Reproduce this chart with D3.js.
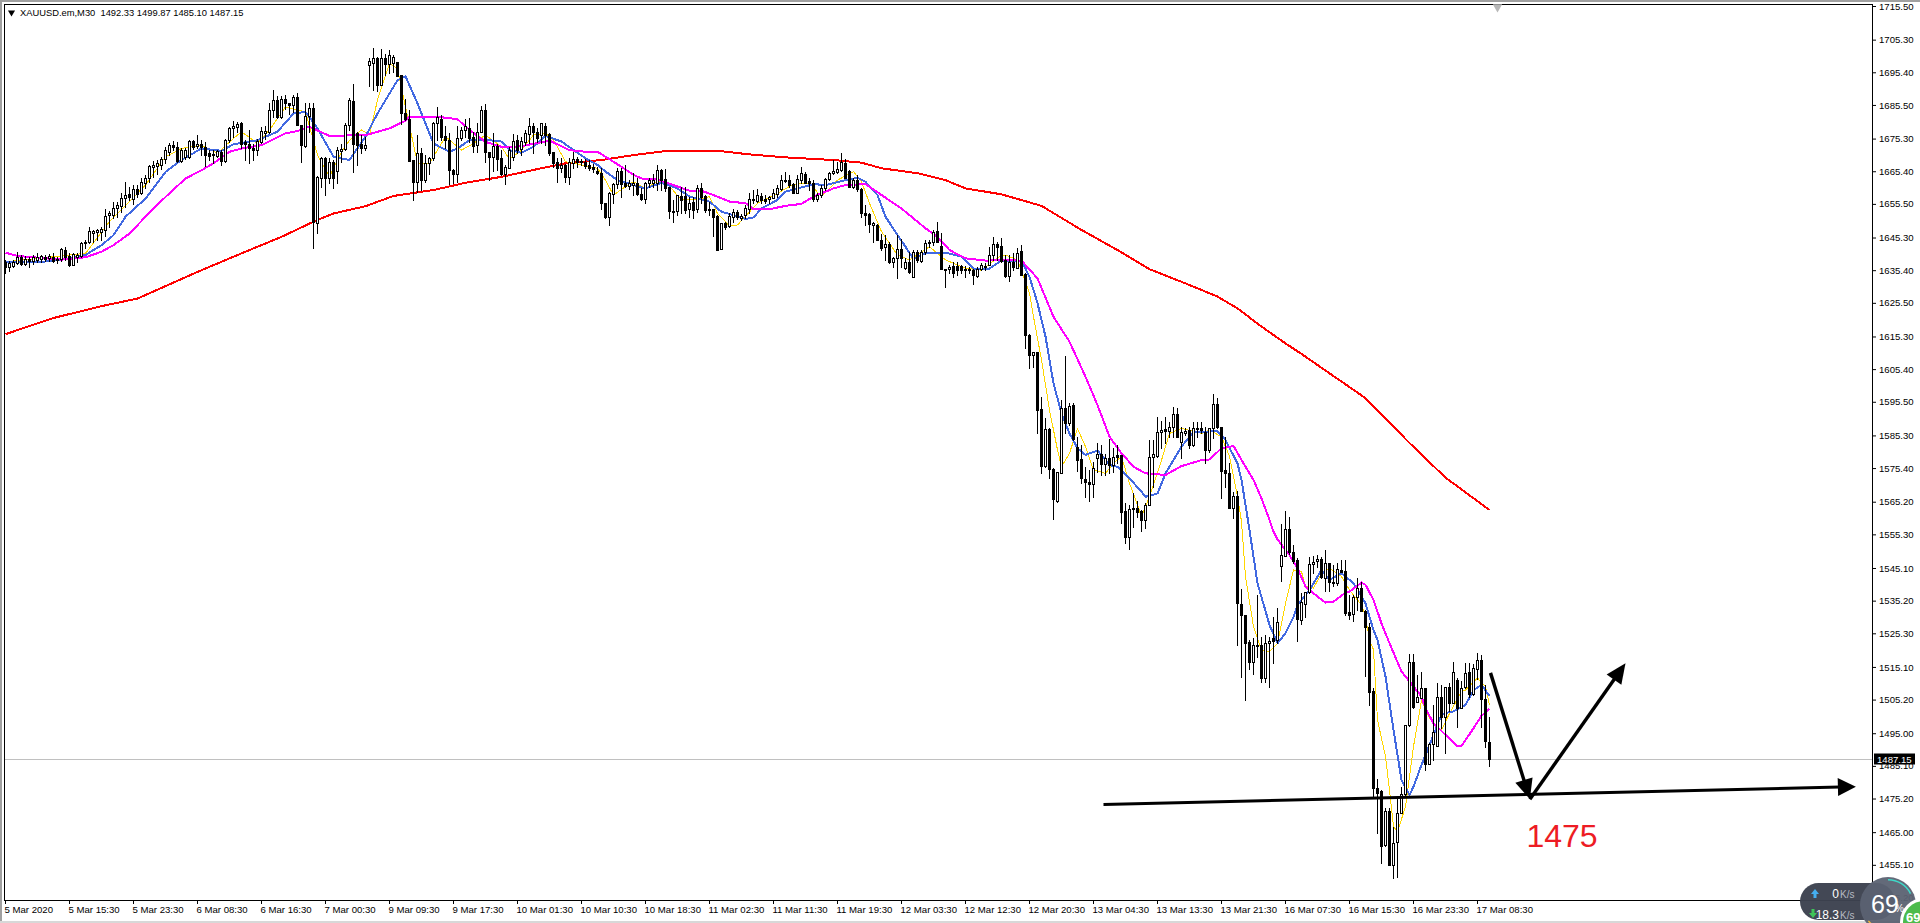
<!DOCTYPE html>
<html><head><meta charset="utf-8">
<script src="https://cdn.jsdelivr.net/npm/d3@7/dist/d3.min.js"></script>
<style>html,body{margin:0;padding:0;background:#fff;overflow:hidden}svg{display:block}text{font-family:"Liberation Sans",Arial,sans-serif}</style>
</head><body><svg id="c" width="1920" height="923"></svg>
<script>
const symbolTitle="XAUUSD.em,M30  1492.33 1499.87 1485.10 1487.15";
const lastPrice=1487.15;
const priceTicks=[1715.50,1705.30,1695.40,1685.50,1675.30,1665.40,1655.50,1645.30,1635.40,1625.50,1615.30,1605.40,1595.50,1585.30,1575.40,1565.20,1555.30,1545.10,1535.20,1525.30,1515.10,1505.20,1495.00,1485.10,1475.20,1465.00,1455.10,1445.20];
const timeLabels=["5 Mar 2020","5 Mar 15:30","5 Mar 23:30","6 Mar 08:30","6 Mar 16:30","7 Mar 00:30","9 Mar 09:30","9 Mar 17:30","10 Mar 01:30","10 Mar 10:30","10 Mar 18:30","11 Mar 02:30","11 Mar 11:30","11 Mar 19:30","12 Mar 03:30","12 Mar 12:30","12 Mar 20:30","13 Mar 04:30","13 Mar 13:30","13 Mar 21:30","16 Mar 07:30","16 Mar 15:30","16 Mar 23:30","17 Mar 08:30"];
const barsPerLabel=16;

const opens=[
1637.9,1636.4,1636.7,1637.7,1639.5,1637.4,1638.8,1638.2,1638.6,1638.9,
1639.5,1639.0,1639.3,1638.4,1638.9,1641.5,1639.7,1637.1,1639.3,1639.8,
1643.5,1643.8,1646.7,1647.0,1647.0,1647.5,1652.1,1652.1,1654.4,1654.8,
1657.4,1658.5,1656.9,1659.9,1658.7,1661.7,1663.2,1666.7,1667.1,1667.3,
1669.0,1671.3,1673.3,1672.8,1668.6,1669.8,1669.8,1674.5,1673.0,1673.8,
1672.8,1670.8,1670.3,1670.1,1671.3,1668.6,1675.0,1678.4,1678.9,1679.9,
1674.3,1673.8,1672.5,1671.8,1674.3,1676.9,1677.4,1684.1,1687.0,1681.9,
1687.3,1686.0,1685.5,1687.8,1679.3,1673.0,1682.1,1684.6,1649.6,1663.5,
1669.5,1663.2,1668.1,1665.5,1671.6,1672.0,1679.4,1686.7,1677.1,1673.8,
1672.3,1697.6,1698.3,1699.6,1691.5,1699.6,1697.8,1698.1,1698.4,1694.6,
1683.1,1681.1,1668.8,1662.2,1671.0,1662.7,1667.8,1669.3,1680.1,1681.1,
1676.0,1675.0,1665.9,1664.7,1675.6,1677.9,1678.4,1675.8,1673.3,1677.4,
1684.1,1671.3,1669.6,1673.0,
1669.3,1664.6,1666.5,1669.8,1674.9,1672.0,1674.4,1676.7,1679.1,1677.4,1676.4,1679.1,1676.7,1671.1,1668.1,1666.3,
1667.3,1663.7,1668.0,1669.0,1668.1,1668.3,1667.3,1666.8,1665.6,1664.8,1655.9,1651.6,1658.5,1661.5,1665.5,1661.9,
1660.9,1661.2,1661.7,1658.5,1656.9,1661.7,1661.7,1661.9,1665.8,1662.9,1660.5,1653.4,1653.4,1658.0,1657.9,1654.1,
1656.2,1653.8,1660.2,1657.9,1654.1,1653.8,1651.8,1641.7,1649.6,1648.8,1651.6,1653.1,1651.3,1652.1,1654.1,1656.7,
1656.4,1657.9,1657.1,1656.9,1657.2,1658.5,1659.9,1662.7,1662.7,1661.5,1658.9,1662.7,1664.6,1662.4,1661.7,1656.9,
1658.2,1660.2,1662.9,1664.8,1665.3,1665.8,1668.0,1665.6,1660.5,1662.7,1659.9,1652.8,1652.4,1649.1,1649.1,1644.7,
1642.3,1643.3,1638.0,1639.0,1641.7,1636.2,1638.0,1633.2,1641.0,1638.3,1641.0,1643.5,1644.0,1647.4,1642.7,1635.9,
1635.9,1636.8,1636.7,1636.7,1635.9,1635.9,1635.4,1633.7,1635.9,1636.4,1637.0,1640.0,1643.2,
1642.7,1638.5,1633.7,1638.0,1636.0,1641.2,1634.2,1615.8,1609.7,1610.5,1593.2,1576.0,1587.1,1575.1,1565.5,1574.0,
1593.5,1589.2,1594.5,1581.7,1578.0,1572.0,1571.3,1570.6,1578.6,1579.8,1576.6,1578.6,1576.3,1579.3,1579.4,1562.4,
1554.6,1563.2,1563.2,1562.4,1559.8,1564.2,1578.9,1579.1,1586.2,1587.1,1586.6,1587.9,1591.7,1583.4,1586.0,1586.9,
1582.4,1587.4,1587.4,1586.4,1580.9,1587.4,1594.7,1587.9,1574.8,1573.8,1563.2,
1567.0,1534.2,1530.9,1522.6,1516.7,1521.8,1521.6,1511.8,1522.3,1523.8,1523.3,1545.8,1548.7,1556.8,1549.9,1547.5,
1529.3,1534.2,1537.7,1546.2,1547.1,1547.8,1542.2,1546.5,1541.0,1540.5,1544.5,1544.3,1531.9,1531.2,1536.2,1538.9,
1532.2,1527.1,1507.8,1478.3,1477.5,1461.1,1471.4,1455.1,1461.9,1470.7,1476.6,1497.4,1516.7,1504.6,1505.6,1508.6,
1485.7,1491.8,1491.2,1506.1,1500.0,1508.9,1504.1,1511.0,1502.6,1508.9,1513.5,1506.8,1514.4,1517.2,1505.3,1492.33];
const highs=[
1638.4,1638.2,1638.6,1640.8,1640.0,1639.7,1639.3,1640.0,1640.7,1640.0,
1640.0,1640.3,1640.7,1639.5,1642.0,1642.5,1640.5,1640.7,1640.5,1644.0,
1644.7,1648.5,1647.7,1648.0,1648.5,1654.1,1653.4,1656.1,1656.1,1658.7,
1662.2,1660.7,1661.2,1661.2,1663.5,1664.2,1667.3,1668.6,1668.8,1669.8,
1672.8,1674.0,1674.6,1674.3,1672.3,1672.3,1674.8,1674.8,1676.4,1674.8,
1674.3,1671.8,1671.8,1671.8,1671.8,1675.3,1678.9,1680.7,1680.4,1680.4,
1674.8,1677.9,1673.6,1675.3,1678.9,1679.1,1686.0,1690.0,1688.2,1688.2,
1688.5,1686.0,1688.5,1689.0,1679.4,1686.0,1686.0,1686.0,1663.9,1669.6,
1669.8,1669.3,1668.8,1672.8,1673.8,1679.9,1687.5,1692.0,1677.4,1676.4,
1675.9,1699.6,1702.9,1700.1,1702.6,1700.9,1702.3,1700.6,1698.6,1694.5,
1687.2,1683.9,1668.8,1676.4,1672.3,1670.3,1669.8,1680.4,1684.9,1682.4,
1679.1,1676.9,1666.2,1679.1,1678.9,1681.1,1681.4,1677.4,1679.9,1685.1,
1685.8,1671.3,1676.9,1673.8,
1671.8,1667.3,1672.8,1676.7,1676.4,1675.9,1677.9,1681.4,1679.9,1678.4,1680.1,1680.1,1676.9,1671.3,1669.3,1669.3,
1667.6,1669.3,1671.3,1669.8,1669.0,1669.0,1668.8,1667.6,1666.8,1666.3,1655.9,1659.2,1661.7,1666.3,1666.3,1667.3,
1662.7,1664.8,1663.5,1660.2,1662.2,1663.2,1664.6,1667.3,1666.0,1666.0,1660.5,1656.7,1658.2,1660.7,1660.7,1657.7,
1657.7,1661.2,1661.7,1658.2,1656.2,1654.1,1652.1,1649.8,1650.1,1652.6,1654.1,1653.6,1652.4,1655.2,1658.7,1659.7,
1659.9,1658.7,1658.2,1657.9,1659.9,1661.2,1664.3,1665.3,1664.3,1661.7,1664.3,1666.6,1665.3,1663.2,1662.7,1658.7,
1661.2,1663.5,1665.3,1668.8,1668.3,1671.0,1669.0,1665.8,1663.2,1664.3,1660.2,1655.2,1652.6,1650.1,1649.4,1646.4,
1646.1,1644.0,1639.5,1646.1,1645.0,1639.0,1641.0,1641.5,1641.5,1641.5,1644.5,1644.5,1647.6,1650.1,1646.6,1635.9,
1636.9,1638.0,1638.0,1637.0,1636.7,1636.4,1635.9,1636.4,1637.5,1637.5,1642.5,1645.5,1644.0,
1645.1,1640.0,1640.0,1640.5,1642.0,1643.0,1634.5,1616.1,1610.7,1610.7,1597.0,1590.5,1587.4,1575.3,1574.3,1596.0,
1609.4,1595.0,1595.0,1584.9,1582.4,1575.8,1574.8,1577.3,1582.9,1582.4,1579.6,1584.1,1581.4,1582.4,1579.4,1564.9,
1564.2,1567.7,1565.5,1562.7,1564.7,1583.9,1583.9,1591.0,1589.7,1590.8,1589.5,1594.0,1593.7,1587.9,1587.4,1587.9,
1589.5,1589.5,1589.5,1587.9,1587.4,1597.9,1596.5,1587.9,1584.9,1576.8,1568.2,
1568.3,1538.7,1530.9,1523.3,1523.8,1536.9,1524.3,1524.8,1524.3,1530.3,1532.9,1558.5,1562.5,1560.5,1552.1,1548.0,
1537.4,1537.9,1548.3,1548.7,1549.1,1548.5,1550.6,1546.5,1546.0,1546.5,1547.5,1547.5,1536.9,1536.9,1542.0,1541.0,
1532.4,1528.4,1508.8,1481.0,1477.8,1472.2,1472.2,1466.7,1475.3,1478.8,1497.5,1519.1,1519.1,1512.7,1513.5,1508.6,
1492.0,1503.6,1510.2,1509.6,1509.1,1510.2,1516.7,1511.7,1510.7,1516.2,1516.4,1516.0,1519.3,1518.7,1509.7,1499.87];
const lows=[
1634.6,1635.2,1636.4,1637.4,1636.9,1636.9,1636.4,1637.4,1637.9,1637.9,
1638.2,1638.2,1637.9,1637.6,1638.2,1638.4,1636.7,1636.9,1637.9,1639.3,
1642.0,1643.5,1644.0,1644.5,1644.7,1645.7,1648.5,1651.1,1651.6,1653.1,
1654.6,1656.6,1655.4,1657.6,1658.5,1660.2,1662.2,1663.7,1664.7,1666.2,
1667.8,1670.3,1671.8,1668.3,1668.3,1669.0,1669.3,1672.1,1672.3,1670.3,
1667.0,1668.8,1667.8,1669.8,1667.3,1668.3,1674.3,1675.9,1677.4,1672.3,
1668.8,1667.8,1668.8,1670.3,1674.0,1675.3,1676.9,1681.9,1681.4,1681.4,
1684.4,1682.9,1683.4,1679.4,1668.3,1672.8,1677.4,1642.0,1646.7,1660.7,
1658.2,1661.7,1660.2,1661.9,1668.3,1671.8,1677.9,1665.2,1667.3,1671.0,
1671.8,1691.2,1690.0,1689.8,1691.5,1694.5,1695.1,1695.6,1694.5,1679.7,
1680.9,1668.6,1656.8,1659.2,1659.7,1662.2,1664.7,1668.8,1674.8,1674.8,
1672.3,1661.5,1661.9,1662.2,1674.8,1675.9,1674.3,1671.3,1671.3,1677.4,
1668.3,1662.7,1665.5,1665.7,
1664.3,1661.4,1666.3,1668.8,1671.0,1670.3,1673.4,1673.9,1670.8,1674.4,1673.9,1673.4,1670.3,1666.8,1662.2,1665.3,
1662.2,1661.4,1666.3,1666.8,1667.3,1666.3,1665.8,1665.3,1664.6,1653.8,1651.1,1649.1,1655.7,1660.2,1657.7,1660.5,
1659.9,1658.2,1658.2,1656.7,1655.7,1660.5,1660.5,1659.7,1659.7,1659.5,1651.1,1650.1,1652.1,1652.6,1652.6,1651.6,
1651.1,1653.1,1655.7,1653.1,1652.1,1645.8,1641.5,1641.7,1647.8,1648.6,1650.1,1650.8,1650.6,1651.1,1652.6,1655.7,
1656.2,1655.7,1655.9,1655.9,1657.2,1657.7,1659.7,1662.2,1660.5,1658.7,1658.7,1661.7,1661.7,1659.7,1656.5,1656.5,
1657.7,1659.7,1662.7,1664.6,1665.0,1665.6,1663.2,1660.5,1660.2,1659.5,1651.6,1649.1,1647.1,1644.0,1644.5,1641.5,
1638.5,1637.5,1636.4,1632.9,1636.4,1635.9,1634.4,1633.2,1638.0,1638.0,1640.3,1642.5,1643.0,1644.0,1635.9,1630.4,
1634.6,1633.4,1633.9,1634.4,1633.4,1634.4,1631.1,1633.4,1635.4,1635.4,1637.0,1638.5,1638.5,
1638.0,1633.2,1632.2,1635.5,1636.0,1633.9,1611.7,1605.8,1606.1,1585.9,1574.0,1575.8,1572.3,1560.1,1565.2,1573.8,
1585.9,1588.5,1583.9,1574.6,1570.8,1566.7,1565.5,1566.5,1574.3,1573.3,1573.3,1573.8,1574.3,1576.8,1558.6,1552.6,
1551.0,1557.6,1560.7,1556.4,1557.1,1564.2,1569.8,1578.9,1581.4,1582.9,1584.9,1584.9,1584.9,1578.3,1585.4,1581.4,
1582.1,1584.9,1585.9,1576.8,1580.4,1584.4,1587.4,1566.2,1569.8,1563.2,1560.4,
1521.6,1512.1,1505.0,1514.5,1513.0,1518.2,1510.6,1510.6,1508.9,1516.2,1522.3,1541.3,1548.7,1549.4,1546.5,1523.1,
1528.0,1530.3,1537.6,1543.5,1545.5,1542.0,1538.0,1538.0,1539.6,1540.0,1543.8,1530.9,1529.5,1529.1,1532.4,1532.2,
1512.5,1503.6,1475.8,1464.7,1455.8,1460.8,1455.1,1451.0,1451.3,1470.7,1476.3,1497.2,1502.6,1504.6,1505.6,1483.7,
1485.6,1486.9,1491.1,1496.5,1489.0,1501.6,1504.1,1496.8,1502.6,1508.6,1506.1,1506.6,1511.4,1497.0,1490.7,1485.10];
const closes=[
1636.4,1637.6,1637.9,1639.5,1637.4,1638.9,1638.1,1639.3,1639.5,1639.7,
1638.8,1639.7,1638.2,1638.9,1641.7,1639.3,1636.9,1640.3,1640.0,1643.5,
1644.0,1647.2,1647.3,1647.5,1647.8,1651.9,1652.6,1654.4,1655.1,1657.4,
1658.2,1657.6,1660.0,1658.5,1662.0,1663.2,1667.0,1667.3,1667.8,1669.1,
1671.8,1673.3,1672.8,1668.5,1671.8,1671.8,1674.5,1672.8,1673.6,1672.8,
1670.3,1670.0,1670.6,1671.5,1668.6,1675.0,1678.4,1679.1,1679.6,1673.8,
1673.8,1672.3,1671.8,1674.5,1677.7,1677.7,1684.1,1687.0,1681.9,1687.3,
1686.0,1685.5,1688.0,1679.4,1673.3,1682.1,1684.6,1650.1,1663.7,1669.3,
1663.2,1668.1,1663.2,1671.8,1672.0,1679.4,1687.0,1673.8,1673.3,1672.3,
1673.3,1698.8,1699.6,1691.5,1699.6,1697.8,1700.6,1700.1,1694.2,1683.1,
1681.1,1668.6,1662.2,1671.0,1662.7,1668.0,1669.3,1680.1,1681.9,1675.9,
1674.8,1665.7,1664.7,1675.6,1677.9,1679.1,1675.6,1673.0,1677.4,1684.1,
1671.3,1669.6,1673.0,1669.0,
1664.6,1666.6,1671.8,1674.7,1671.8,1674.7,1676.9,1679.1,1677.4,1675.4,1679.9,1676.4,1671.0,1667.8,1666.3,1667.3,
1663.7,1668.3,1669.0,1668.3,1668.5,1667.1,1666.3,1666.0,1664.8,1655.9,1651.4,1658.7,1661.5,1665.4,1661.5,1660.9,
1661.9,1661.7,1658.4,1656.9,1661.9,1662.7,1662.7,1665.8,1662.7,1660.2,1653.4,1653.1,1658.2,1656.7,1653.6,1655.9,
1653.6,1660.2,1657.7,1653.6,1653.6,1651.6,1641.5,1649.6,1648.6,1651.8,1653.1,1651.4,1651.9,1654.4,1656.9,1657.0,
1658.2,1656.7,1656.4,1657.5,1658.7,1660.2,1662.7,1662.4,1661.2,1658.9,1662.9,1665.0,1661.9,1661.7,1656.9,1658.2,
1660.2,1663.0,1664.8,1665.6,1666.0,1668.1,1663.2,1660.5,1662.7,1659.9,1652.8,1652.1,1649.4,1649.8,1644.7,1642.0,
1643.3,1638.0,1639.0,1641.7,1639.0,1638.0,1634.9,1641.0,1638.5,1641.0,1643.5,1644.0,1647.1,1644.0,1635.9,1635.4,
1636.4,1634.6,1635.4,1635.4,1635.4,1635.4,1633.9,1635.9,1637.0,1636.7,1640.0,1643.2,1642.5,
1638.3,1633.7,1638.0,1636.3,1640.7,1633.9,1615.8,1609.7,1610.5,1593.0,1576.0,1587.1,1575.0,1565.9,1574.1,1593.5,
1589.2,1594.3,1584.2,1577.8,1572.3,1571.3,1570.6,1575.3,1579.8,1576.6,1578.6,1576.3,1578.9,1578.9,1562.2,1554.6,
1562.9,1562.9,1562.2,1559.6,1564.2,1578.9,1579.6,1586.2,1586.9,1586.6,1587.9,1591.7,1584.9,1586.2,1586.6,1582.4,
1587.4,1587.1,1586.9,1580.9,1587.4,1594.7,1587.9,1574.6,1573.8,1563.2,1566.9,
1534.4,1530.7,1522.5,1516.7,1521.8,1521.3,1511.8,1522.3,1523.1,1523.0,1528.8,1549.1,1556.8,1549.8,1547.3,1529.5,
1534.7,1537.7,1546.2,1547.0,1547.7,1542.5,1546.5,1541.0,1540.5,1544.7,1543.8,1531.6,1530.9,1536.2,1538.9,1532.2,
1527.1,1507.6,1478.3,1477.0,1460.9,1471.4,1455.1,1461.6,1470.7,1476.6,1497.5,1516.7,1503.1,1505.9,1508.6,1485.6,
1491.8,1495.5,1505.9,1500.0,1508.9,1504.1,1513.5,1502.6,1508.6,1513.2,1506.8,1514.7,1517.2,1505.3,1492.5,1487.15];

const redBars=[0,12,24,33,49,60,69,77,82,90,97,103,107,115,124,132,140,149,157,165,178,186,195,207,214,219,228,235,240,249,259,269,278,286,295,303,308,314,320,324,340,351,360,371];
const redValues=[1616.0,1620.9,1624.5,1626.8,1635.4,1641.0,1645.5,1650.1,1652.6,1654.8,1657.9,1659.0,1659.7,1661.9,1663.7,1665.8,1667.8,1668.8,1670.3,1671.5,1671.6,1670.5,1669.6,1668.8,1668.0,1666.3,1664.8,1662.7,1660.2,1658.4,1654.9,1647.6,1641.5,1635.7,1631.4,1627.4,1623.8,1618.3,1613.2,1610.0,1596.6,1583.0,1572.5,1562.7];

const blueBars=[0,9,16,20,24,27,30,35,40,44,49,54,57,63,68,72,75,78,82,86,90,93,98,100,103,107,111,113,116,121,124,126,129,132,135,139,145,148,150,153,157,160,164,168,171,176,179,182,185,187,189,193,195,199,202,205,210,213,215,218,220,223,225,227,230,235,239,242,246,249,254,256,258,260,262,264,266,268,270,273,276,278,281,284,285,288,290,294,297,300,303,305,308,309,311,313,316,318,320,322,323,326,329,331,334,337,340,342,343,345,347,349,351,352,354,355,357,359,360,362,365,367,369,371];
const blueValues=[1637.9,1637.9,1638.9,1640.0,1643.0,1646.0,1651.6,1657.1,1665.2,1668.8,1672.3,1671.6,1673.6,1674.8,1677.4,1682.9,1683.4,1678.4,1669.8,1668.8,1675.9,1682.9,1693.0,1694.2,1686.0,1673.8,1671.3,1672.3,1674.8,1674.8,1674.4,1671.8,1671.0,1672.8,1676.1,1674.4,1669.3,1667.3,1665.3,1662.7,1661.2,1660.2,1661.9,1660.2,1657.7,1656.2,1653.1,1652.1,1650.9,1651.4,1654.1,1656.7,1659.2,1660.5,1661.5,1661.2,1662.7,1663.4,1662.2,1658.2,1651.6,1646.1,1642.5,1638.7,1640.5,1640.7,1639.5,1635.9,1635.9,1638.3,1638.3,1633.4,1625.4,1615.3,1601.1,1592.0,1585.9,1581.4,1579.4,1580.7,1576.3,1575.8,1572.3,1568.2,1566.7,1567.7,1573.8,1581.9,1586.4,1586.4,1586.6,1583.9,1576.8,1571.8,1556.6,1540.5,1527.8,1522.3,1525.3,1530.3,1533.9,1538.4,1544.5,1541.5,1543.5,1540.5,1534.4,1526.3,1523.3,1512.2,1496.0,1480.8,1476.3,1478.8,1485.4,1488.4,1494.5,1500.6,1501.1,1501.6,1503.6,1508.1,1509.6,1506.3];

const magentaBars=[0,3,7,14,20,24,27,31,35,40,45,49,52,56,59,64,70,73,76,81,87,90,96,100,101,108,113,115,120,124,128,132,136,141,145,148,152,157,159,163,167,171,174,178,181,185,187,191,195,199,202,207,210,215,219,224,230,233,236,240,245,249,254,258,262,266,270,273,276,279,282,285,290,294,299,301,304,307,310,312,314,316,317,318,321,323,325,327,330,332,335,336,339,340,342,344,346,349,351,354,355,357,360,363,364,367,369,371];
const magentaValues=[1640.7,1639.7,1639.3,1638.6,1639.3,1641.0,1643.0,1646.5,1651.6,1657.6,1663.2,1665.7,1667.8,1671.3,1672.3,1673.3,1676.9,1677.6,1678.9,1676.1,1676.3,1676.3,1678.4,1680.7,1681.9,1681.9,1681.2,1678.9,1674.3,1672.8,1672.8,1673.7,1674.7,1671.8,1671.3,1671.3,1668.3,1664.3,1663.2,1662.9,1661.2,1659.5,1659.5,1657.7,1656.2,1655.7,1653.9,1653.9,1654.9,1655.5,1657.7,1660.2,1661.2,1661.5,1658.2,1654.1,1648.1,1645.5,1641.5,1639.0,1638.3,1638.5,1638.3,1632.9,1621.3,1613.7,1603.1,1594.5,1584.9,1579.9,1575.8,1573.8,1573.3,1576.0,1577.8,1578.0,1581.4,1582.1,1575.8,1571.8,1566.2,1559.7,1556.1,1553.8,1549.0,1545.0,1539.5,1537.4,1534.6,1534.9,1537.6,1537.9,1540.7,1540.0,1535.4,1528.3,1522.3,1513.7,1510.7,1506.1,1502.6,1498.0,1494.5,1491.1,1491.1,1496.5,1500.3,1502.4];

const yellowBars=[0,20,26,35,40,44,49,53,56,59,63,66,70,75,78,81,84,86,89,91,93,96,98,100,103,106,110,114,117,120,124,126,129,132,135,137,140,144,148,150,152,155,157,160,163,165,169,173,176,178,181,183,188,193,197,201,204,208,212,214,216,219,223,226,231,235,240,244,249,250,253,256,257,259,261,263,264,266,268,270,272,275,277,279,281,283,284,286,289,291,294,299,301,304,306,308,309,310,312,314,316,318,320,322,324,325,327,329,331,334,336,339,340,341,342,343,345,346,347,348,350,352,354,355,357,359,361,364,365,368,370,371];
const yellowValues=[1637.9,1640.5,1650.1,1661.2,1669.8,1672.3,1673.3,1670.8,1674.3,1677.4,1673.8,1677.9,1684.9,1683.4,1670.3,1663.7,1671.3,1674.8,1677.9,1676.4,1687.0,1698.1,1696.6,1684.9,1667.8,1667.8,1675.9,1671.8,1673.8,1676.4,1672.8,1669.0,1671.8,1676.4,1676.9,1674.9,1668.3,1667.3,1666.3,1662.7,1658.2,1660.7,1662.2,1660.2,1662.2,1662.2,1656.7,1656.7,1657.7,1652.6,1648.8,1649.1,1655.7,1658.7,1661.5,1661.7,1657.7,1662.7,1665.3,1662.2,1655.7,1647.1,1640.0,1638.5,1642.5,1638.5,1636.0,1635.4,1640.0,1640.0,1638.5,1628.4,1621.3,1608.2,1593.0,1580.9,1575.8,1579.9,1587.4,1581.9,1574.8,1573.8,1576.8,1578.9,1570.8,1564.2,1560.6,1566.7,1577.8,1585.9,1587.4,1585.9,1586.9,1584.9,1578.9,1566.7,1559.2,1542.5,1527.3,1520.2,1519.7,1522.3,1534.4,1544.5,1544.0,1539.5,1539.0,1543.5,1545.0,1542.5,1538.4,1533.9,1530.3,1523.3,1520.3,1499.0,1487.9,1477.8,1466.7,1465.2,1472.7,1491.0,1505.0,1502.1,1497.5,1496.0,1501.0,1507.6,1508.1,1511.7,1509.1,1503.6];

// hand-drawn annotations, as [bar, price]
const trendLine=[[274.5,1473.4],[462.6,1478.8]];
const downArrow=[[371.25,1513.3],[381.1,1475.0]];
const upArrow=[[381.1,1475.0],[405,1516.2]];
const targetText="1475";

const svg=d3.select("#c");
const x=d3.scaleLinear().domain([0,1]).range([5.5,9.5]);
const y=d3.scaleLinear().domain([1717.32,1437.46]).range([0,923]);
const plotL=4,plotR=1872,plotT=4,plotB=900;
const snap=v=>Math.round(v)+.5;

// window chrome
svg.append("rect").attr("width",1920).attr("height",923).attr("fill","#fff");
svg.append("rect").attr("width",1920).attr("height",2).attr("fill","#a0a0a0");
svg.append("rect").attr("width",2).attr("height",923).attr("fill","#a0a0a0");
svg.append("rect").attr("y",921).attr("width",1920).attr("height",2).attr("fill","#d8d8d8");

svg.append("defs").append("clipPath").attr("id","plot").append("rect")
  .attr("x",plotL+1).attr("y",plotT+1).attr("width",plotR-plotL-1).attr("height",plotB-plotT-1);
const plot=svg.append("g").attr("clip-path","url(#plot)");

// last price line
plot.append("line").attr("x1",plotL).attr("x2",plotR).attr("y1",snap(y(lastPrice))).attr("y2",snap(y(lastPrice))).attr("stroke","#c0c0c0");

// moving averages
const lineGen=d3.line().x(d=>x(d[0])).y(d=>y(d[1]));
function drawMA(bars,vals,color,w){
  plot.append("path").datum(bars.map((b,i)=>[b,vals[i]])).attr("d",lineGen).attr("fill","none")
    .attr("stroke",color).attr("stroke-width",w).attr("stroke-linejoin","round").attr("shape-rendering","crispEdges");
}
drawMA(redBars,redValues,"#ff0000",2);
drawMA(yellowBars,yellowValues,"#ffd700",1);
drawMA(blueBars,blueValues,"#4169e1",2);
drawMA(magentaBars,magentaValues,"#ff00ff",2);

// candles
const idx=d3.range(opens.length);
const g=plot.append("g").attr("shape-rendering","crispEdges");
g.selectAll("line.w").data(idx).join("line").attr("class","w")
  .attr("x1",i=>x(i)).attr("x2",i=>x(i)).attr("y1",i=>Math.round(y(highs[i]))).attr("y2",i=>Math.round(y(lows[i]))+1)
  .attr("stroke","#000");
g.selectAll("rect.b").data(idx).join("rect").attr("class","b")
  .attr("x",i=>x(i)-1).attr("width",2)
  .attr("y",i=>snap(y(Math.max(opens[i],closes[i]))))
  .attr("height",i=>Math.max(1,Math.round(y(Math.min(opens[i],closes[i])))-Math.round(y(Math.max(opens[i],closes[i])))))
  .attr("fill",i=>closes[i]>=opens[i]?"#fff":"#000").attr("stroke","#000");

// frame
svg.append("path").attr("d",`M${plotL+.5},${plotB+.5}V${plotT+.5}H${plotR+.5}V${plotB+.5}H${plotL+.5}`).attr("fill","none").attr("stroke","#000").attr("shape-rendering","crispEdges");

// axes
const axisY=d3.axisRight(y).tickValues(priceTicks).tickFormat(d3.format(".2f")).tickSize(4).tickPadding(3);
const gy=svg.append("g").attr("transform",`translate(${plotR},0)`).call(axisY);
gy.select(".domain").remove();
gy.selectAll("text").attr("font-size","9.6px").attr("font-family",'"Liberation Sans",Arial,sans-serif').attr("fill","#000");
gy.selectAll("line").attr("stroke","#000");

const timeBars=timeLabels.map((_,i)=>i*barsPerLabel);
const axisX=d3.axisBottom(x).tickValues(timeBars).tickFormat((d,i)=>timeLabels[i]).tickSize(4).tickPadding(2);
const gx=svg.append("g").attr("transform",`translate(-0.5,${plotB})`).call(axisX);
gx.select(".domain").remove();
gx.selectAll("text").attr("font-size","9.6px").attr("font-family",'"Liberation Sans",Arial,sans-serif').attr("fill","#000").attr("text-anchor","start").attr("x",-1);
gx.selectAll("line").attr("stroke","#000");

// header
svg.append("path").attr("d",d3.symbol(d3.symbolTriangle,22)()).attr("transform","translate(11.5,12.5) rotate(180)").attr("fill","#000");
svg.append("text").attr("x",20).attr("y",16).attr("font-size","9.35px").attr("xml:space","preserve").style("white-space","pre").attr("fill","#000").text(symbolTitle);

// grey shift marker
svg.append("path").attr("d",d3.symbol(d3.symbolTriangle,38)()).attr("transform","translate(1497.5,7) rotate(180)").attr("fill","#b8b8b8");

// last price tag
const lp=snap(y(lastPrice));
svg.append("rect").attr("x",1874).attr("y",lp-6).attr("width",41).attr("height",11).attr("fill","#000");
svg.append("text").attr("x",1877).attr("y",lp+3.5).attr("font-size","9.6px").attr("fill","#fff").text(d3.format(".2f")(lastPrice));

// annotations
const pt=d=>[x(d[0]),y(d[1])];
function arrow(a,b,headLen,headW,w){
  const [x1,y1]=pt(a),[x2,y2]=pt(b);
  const t=Math.atan2(y2-y1,x2-x1),c=Math.cos(t),s=Math.sin(t);
  const bx=x2-headLen*c,by=y2-headLen*s;
  svg.append("line").attr("x1",x1).attr("y1",y1).attr("x2",bx+2*c).attr("y2",by+2*s).attr("stroke","#000").attr("stroke-width",w);
  svg.append("polygon").attr("points",[[x2,y2],[bx-s*headW/2,by+c*headW/2],[bx+s*headW/2,by-c*headW/2]].join(" ")).attr("fill","#000");
}
arrow(downArrow[0],downArrow[1],20,18,3.4);
arrow(upArrow[0],upArrow[1],20,18,3.4);
arrow(trendLine[0],trendLine[1],18,18,3);
svg.append("text").attr("x",x(381.1)-3.5).attr("y",847).attr("font-size","32px").attr("fill","#ed1c24").text(targetText);

// network meter overlay
const w=svg.append("g");
w.append("rect").attr("x",1800).attr("y",883).attr("width",95).attr("height",37).attr("rx",18.5).attr("fill","#3d4250").attr("fill-opacity",.97);
w.append("circle").attr("cx",1888).attr("cy",905).attr("r",28).attr("fill","#5b6272").attr("fill-opacity",.95);
const arc=d3.arc().innerRadius(24.5).outerRadius(26);
w.append("path").attr("transform","translate(1888,905)").attr("d",arc({startAngle:0,endAngle:1.1})).attr("fill","#3fd9c9");
w.append("path").attr("transform","translate(1888,905)").attr("d",arc({startAngle:-2.75,endAngle:-2.25})).attr("fill","#f2b93b");
w.append("text").attr("x",1871).attr("y",913).attr("font-size","25px").attr("font-family","Lato,Roboto,sans-serif").attr("font-weight",300).attr("fill","#fff").text("69");
w.append("text").attr("x",1895).attr("y",912).attr("font-size","10px").attr("fill","#fff").text("%");
w.append("path").attr("d","M1815,889l4,5h-2.5v4h-3v-4h-2.5z").attr("fill","#45aef0");
w.append("path").attr("d","M1813,918l4,-5h-2.5v-4h-3v4h-2.5z").attr("fill","#3fc45a");
w.append("text").attr("x",1839).attr("y",898).attr("text-anchor","end").attr("font-size","12px").attr("fill","#fff").text("0");
w.append("text").attr("x",1840).attr("y",898).attr("font-size","10px").attr("fill","#b5b9c2").text("K/s");
w.append("text").attr("x",1839).attr("y",919).attr("text-anchor","end").attr("font-size","12px").attr("fill","#fff").text("18.3");
w.append("text").attr("x",1840).attr("y",919).attr("font-size","10px").attr("fill","#b5b9c2").text("K/s");
w.append("circle").attr("cx",1924).attr("cy",922).attr("r",24).attr("fill","#fff");
w.append("circle").attr("cx",1924).attr("cy",922).attr("r",21).attr("fill","#4cbb4c");
w.append("text").attr("x",1906).attr("y",922).attr("font-size","13px").attr("font-weight","bold").attr("fill","#fff").text("69");
</script></body></html>
